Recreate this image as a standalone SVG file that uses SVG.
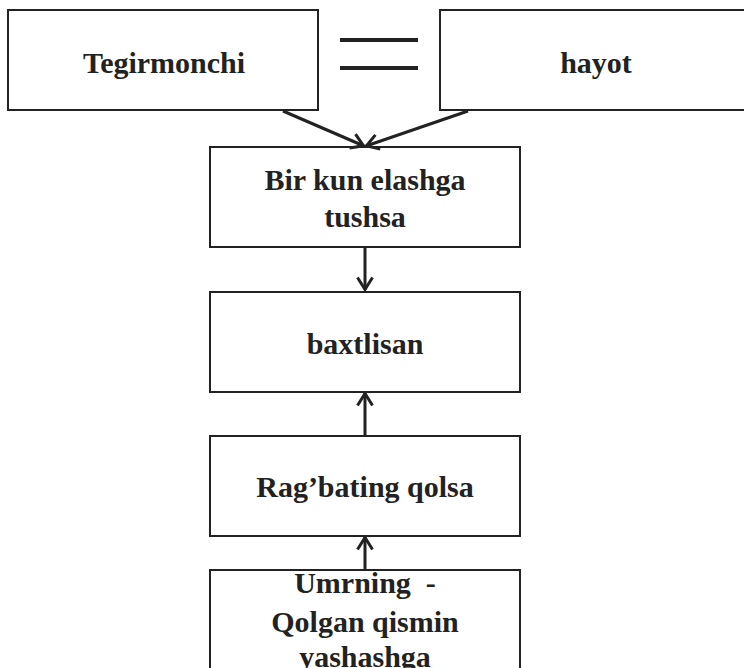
<svg xmlns="http://www.w3.org/2000/svg" width="744" height="668" viewBox="0 0 744 668">
<defs>
<style>
.box{fill:#fff;stroke:#222;stroke-width:2}
.t{font-family:"Liberation Serif","Times New Roman",serif;font-weight:bold;font-size:30px;fill:#222;text-anchor:middle}
.c{stroke:#222;stroke-width:3;fill:none}
</style>
<marker id="ah" viewBox="0 0 16 18" refX="14.5" refY="9" markerWidth="16" markerHeight="18" markerUnits="userSpaceOnUse" orient="auto">
<polyline points="2,1.5 14,9 2,16.5" fill="none" stroke="#222" stroke-width="3"/>
</marker>
</defs>
<rect width="744" height="668" fill="#fff"/>
<g id="n1"><rect class="box" x="8" y="10" width="310" height="100"/><text class="t" x="164" y="73">Tegirmonchi</text></g>
<g id="eq"><line x1="340" y1="40" x2="418" y2="40" stroke="#222" stroke-width="4"/><line x1="340" y1="68" x2="418" y2="68" stroke="#222" stroke-width="4"/></g>
<g id="n2"><rect class="box" x="440" y="10" width="310" height="100"/><text class="t" x="596" y="73">hayot</text></g>
<g id="n3"><rect class="box" x="210" y="147" width="310" height="100"/><text class="t" x="365" y="190">Bir kun elashga</text><text class="t" x="365" y="227">tushsa</text></g>
<g id="n4"><rect class="box" x="210" y="292" width="310" height="100"/><text class="t" x="365" y="354">baxtlisan</text></g>
<g id="n5"><rect class="box" x="210" y="436" width="310" height="100"/><text class="t" x="365" y="497">Rag’bating qolsa</text></g>
<g id="n6"><rect class="box" x="210" y="570" width="310" height="120"/><text class="t" x="365" y="593" style="white-space:pre">Umrning  -</text><text class="t" x="365" y="632">Qolgan qismin</text><text class="t" x="365" y="667">yashashga</text></g>
<g id="connectors">
<line class="c" x1="283" y1="111" x2="364" y2="146" marker-end="url(#ah)"/>
<line class="c" x1="468" y1="111" x2="366" y2="146" marker-end="url(#ah)"/>
<line class="c" x1="365" y1="248" x2="365" y2="290" marker-end="url(#ah)"/>
<line class="c" x1="365" y1="435" x2="365" y2="393" marker-end="url(#ah)"/>
<line class="c" x1="365" y1="569" x2="365" y2="537" marker-end="url(#ah)"/>
</g>
</svg>
